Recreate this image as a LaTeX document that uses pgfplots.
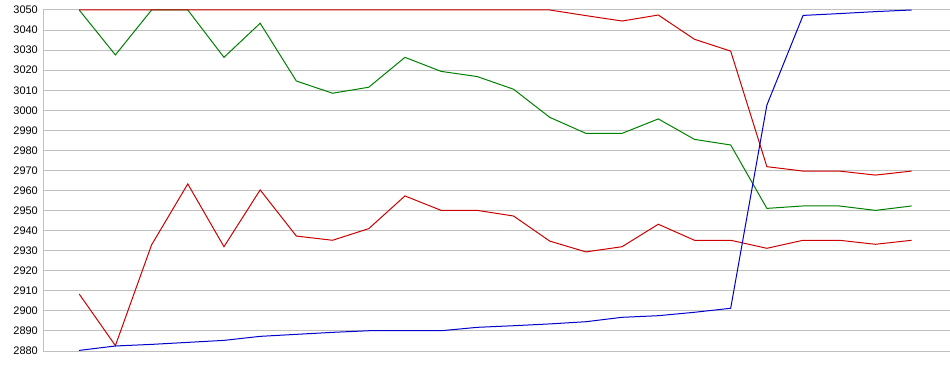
\documentclass[border=0pt]{standalone}
\usepackage{pgfplots}
\pgfplotsset{compat=1.18}
\usepackage{fontspec}
\setmainfont{Liberation Sans}
\definecolor{gridgray}{RGB}{192,192,192}
\definecolor{sred}{RGB}{204,0,0}
\definecolor{sgreen}{RGB}{0,128,0}
\definecolor{sblue}{RGB}{0,0,204}
\begin{document}
\begin{tikzpicture}[x=1bp,y=1bp]
\useasboundingbox (0,0) rectangle (950,375);
\begin{axis}[
  at={(43bp,24bp)}, anchor=south west,
  scale only axis, width=907bp, height=341bp,
  xmin=-1, xmax=24.06, ymin=2880, ymax=3050,
  ytick={2880,2890,...,3050}, xtick=\empty,
  ymajorgrids, grid style={gridgray, line width=1bp},
  axis x line=none, axis y line*=left,
  y axis line style={gridgray, line width=1bp, -},
  major tick length=0pt,
  /pgf/number format/1000 sep={},
  /pgf/number format/assume math mode=true,
  yticklabel style={font=\fontsize{11}{13}\selectfont, inner sep=0pt, xshift=-5bp},
  clip=false,
  every axis plot/.append style={line width=1bp, mark=none},
]
\addplot[sgreen] coordinates {
(0,3050)(1,3027.6)(2,3050)(3,3050)(4,3026.4)(5,3043.4)(6,3014.6)(7,3008.5)
(8,3011.5)(9,3026.4)(10,3019.4)(11,3016.8)(12,3010.5)(13,2996.5)(14,2988.5)(15,2988.5)
(16,2995.7)(17,2985.5)(18,2982.7)(19,2951.1)(20,2952.3)(21,2952.3)(22,2950.1)(23,2952.3)};
\addplot[sred] coordinates {
(0,2908.4)(1,2882.7)(2,2932.9)(3,2963.3)(4,2932.0)(5,2960.3)(6,2937.3)(7,2935.2)
(8,2941.0)(9,2957.3)(10,2950.1)(11,2950.1)(12,2947.3)(13,2934.8)(14,2929.4)(15,2932.0)
(16,2943.2)(17,2935.2)(18,2935.2)(19,2931.2)(20,2935.2)(21,2935.2)(22,2933.2)(23,2935.2)};
\addplot[sred] coordinates {
(0,3050)(1,3050)(2,3050)(3,3050)(4,3050)(5,3050)(6,3050)(7,3050)
(8,3050)(9,3050)(10,3050)(11,3050)(12,3050)(13,3050)(14,3047.2)(15,3044.5)
(16,3047.5)(17,3035.4)(18,3029.5)(19,2971.9)(20,2969.7)(21,2969.7)(22,2967.7)(23,2969.7)};
\addplot[sblue] coordinates {
(0,2880.3)(1,2882.5)(2,2883.3)(3,2884.3)(4,2885.3)(5,2887.3)(6,2888.3)(7,2889.3)
(8,2890.1)(9,2890.1)(10,2890.1)(11,2891.8)(12,2892.6)(13,2893.5)(14,2894.6)(15,2896.8)
(16,2897.6)(17,2899.3)(18,2901.3)(19,3002.6)(20,3047.3)(21,3048.2)(22,3049.2)(23,3050)};
\end{axis}
\end{tikzpicture}
\end{document}
